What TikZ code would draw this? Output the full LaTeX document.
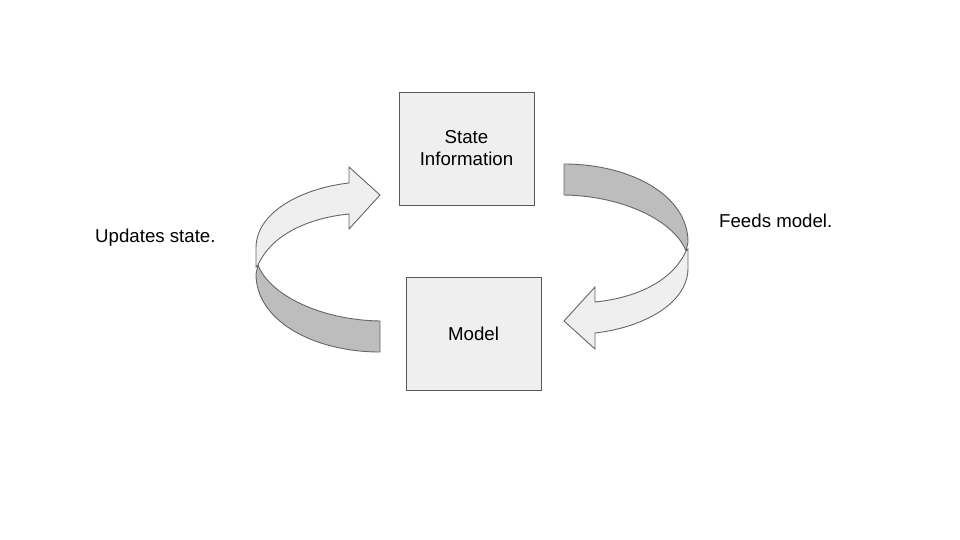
\documentclass[tikz,border=0pt]{standalone}
\usepackage{fontspec}
\setmainfont{Liberation Sans}
\begin{document}
\begin{tikzpicture}[x=1pt,y=-1pt,
  boxstyle/.style={draw=boxline,fill=boxfill,line width=0.9pt,minimum width=135pt,minimum height=113pt,align=center,inner sep=0pt,font=\fontsize{18.67}{22}\selectfont},
  labelstyle/.style={inner sep=0pt,font=\fontsize{18.67}{22}\selectfont},
  darkband/.style={draw=arrline,fill=bandfill,line width=0.9pt,line join=round},
  lightband/.style={draw=arrline,fill=boxfill,line width=0.9pt,line join=miter}]
\definecolor{boxfill}{HTML}{EFEFEF}
\definecolor{boxline}{HTML}{595959}
\definecolor{arrline}{HTML}{666666}
\definecolor{bandfill}{HTML}{BDBDBD}
\useasboundingbox (0,0) rectangle (960,540);
\fill[white] (0,0) rectangle (960,540);

% boxes
\node[boxstyle] (si) at (466.5,148.5) {State\\Information};
\node[boxstyle] (model) at (473.5,333.5) {Model};

% labels
\node[labelstyle,anchor=base west] (upd) at (95,242) {Updates state.};
\node[labelstyle,anchor=base west] (feeds) at (719,227) {Feeds model.};

% right curved arrow (feeds model)
\newcommand{\myribbon}{%
  \draw[darkband] (564,164) .. controls (630,164) and (688,195) .. (688,242)
     -- (686,251) .. controls (675,222) and (625,196) .. (564,195) -- cycle;
  \draw[lightband] (686,251) .. controls (672,282) and (635,298) .. (595,302)
     -- (595,287) -- (564,321) -- (595,349) -- (595,333)
     .. controls (640,328) and (688,305) .. (688,268) -- (688,249) -- cycle;
}
\myribbon
% left curved arrow (updates state): point reflection of the right one
\begin{scope}[rotate around={180:(472,258)}]
\myribbon
\end{scope}
\end{tikzpicture}
\end{document}
